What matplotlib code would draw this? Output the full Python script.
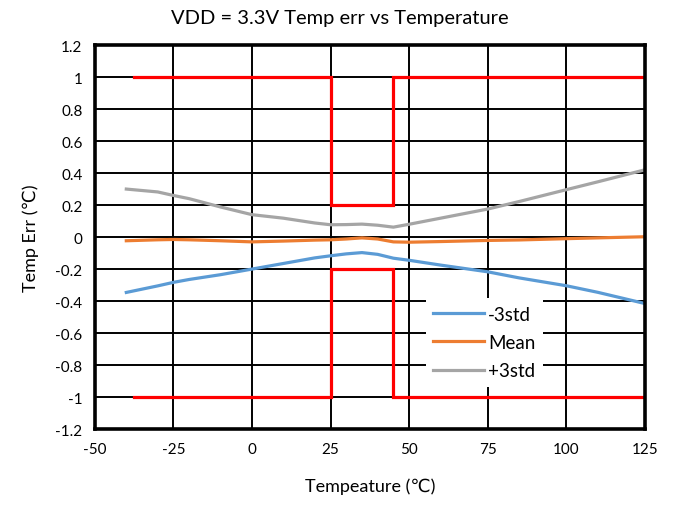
import matplotlib
matplotlib.use("Agg")
import matplotlib.pyplot as plt

plt.rcParams['font.family'] = ['Lato', 'DejaVu Sans']
plt.rcParams['axes.unicode_minus'] = False

# Temperature sweep points (°C)
temps = [-40, -30, -25, -20, -10, 0, 10, 20, 25, 30, 35, 40, 45, 50, 60, 75, 85, 100, 110, 125]

minus_3std = [-0.346, -0.305, -0.283, -0.265, -0.235, -0.200, -0.165, -0.130, -0.117, -0.105,
              -0.097, -0.108, -0.132, -0.145, -0.175, -0.217, -0.255, -0.304, -0.345, -0.415]
mean = [-0.023, -0.017, -0.015, -0.017, -0.023, -0.030, -0.025, -0.019, -0.017, -0.012,
        -0.005, -0.012, -0.030, -0.032, -0.028, -0.021, -0.018, -0.010, -0.005, 0.002]
plus_3std = [0.300, 0.282, 0.260, 0.240, 0.188, 0.140, 0.118, 0.088, 0.077, 0.078,
             0.081, 0.074, 0.062, 0.080, 0.118, 0.175, 0.222, 0.296, 0.345, 0.420]

# Spec limits
limit_x = [-37.5, 25, 25, 45, 45, 125]
upper_limit = [1, 1, 0.2, 0.2, 1, 1]
lower_limit = [-1, -1, -0.2, -0.2, -1, -1]

x_ticks = [-50, -25, 0, 25, 50, 75, 100, 125]
y_ticks = [-1.2, -1, -0.8, -0.6, -0.4, -0.2, 0, 0.2, 0.4, 0.6, 0.8, 1, 1.2]
y_tick_labels = ['-1.2', '-1', '-0.8', '-0.6', '-0.4', '-0.2', '0', '0.2', '0.4', '0.6', '0.8', '1', '1.2']

fig = plt.figure(figsize=(6.73, 5.06), dpi=100)
ax = fig.add_axes([0.141, 0.150, 0.817, 0.759])

ax.plot(limit_x, upper_limit, color='#FF0000', lw=2.3, solid_joinstyle='miter', zorder=3)
ax.plot(limit_x, lower_limit, color='#FF0000', lw=2.3, solid_joinstyle='miter', zorder=3)

ax.plot(temps, minus_3std, color='#5B9BD5', lw=2.3, label='-3std', zorder=4)
ax.plot(temps, mean, color='#ED7D31', lw=2.3, label='Mean', zorder=4)
ax.plot(temps, plus_3std, color='#A5A5A5', lw=2.3, label='+3std', zorder=4)

ax.set_xlim(-50, 125)
ax.set_ylim(-1.2, 1.2)
ax.set_xticks(x_ticks)
ax.set_yticks(y_ticks)
ax.set_yticklabels(y_tick_labels)
ax.tick_params(length=0, labelsize=11, pad=9)
ax.grid(True, color='black', lw=1.4, zorder=1)
ax.set_axisbelow(True)
for s in ax.spines.values():
    s.set_linewidth(2.6)
    s.set_color('black')
    s.set_zorder(5)

ax.set_xlabel('Tempeature (℃)', fontsize=13, labelpad=16)
ax.set_ylabel('Temp Err (℃)', fontsize=13, labelpad=12)
fig.suptitle('VDD = 3.3V Temp err vs Temperature', fontsize=14.5, x=0.505, y=0.98)

leg = ax.legend(loc='upper left', bbox_to_anchor=(0.585, 0.365), frameon=True,
                fontsize=13.5, handlelength=2.7, borderpad=0.4, labelspacing=0.6,
                handletextpad=0.2, fancybox=False)
leg.get_frame().set_edgecolor('none')
leg.get_frame().set_facecolor('white')
leg.get_frame().set_alpha(1)
leg.set_zorder(6)

fig.savefig('out.png', dpi=100)
